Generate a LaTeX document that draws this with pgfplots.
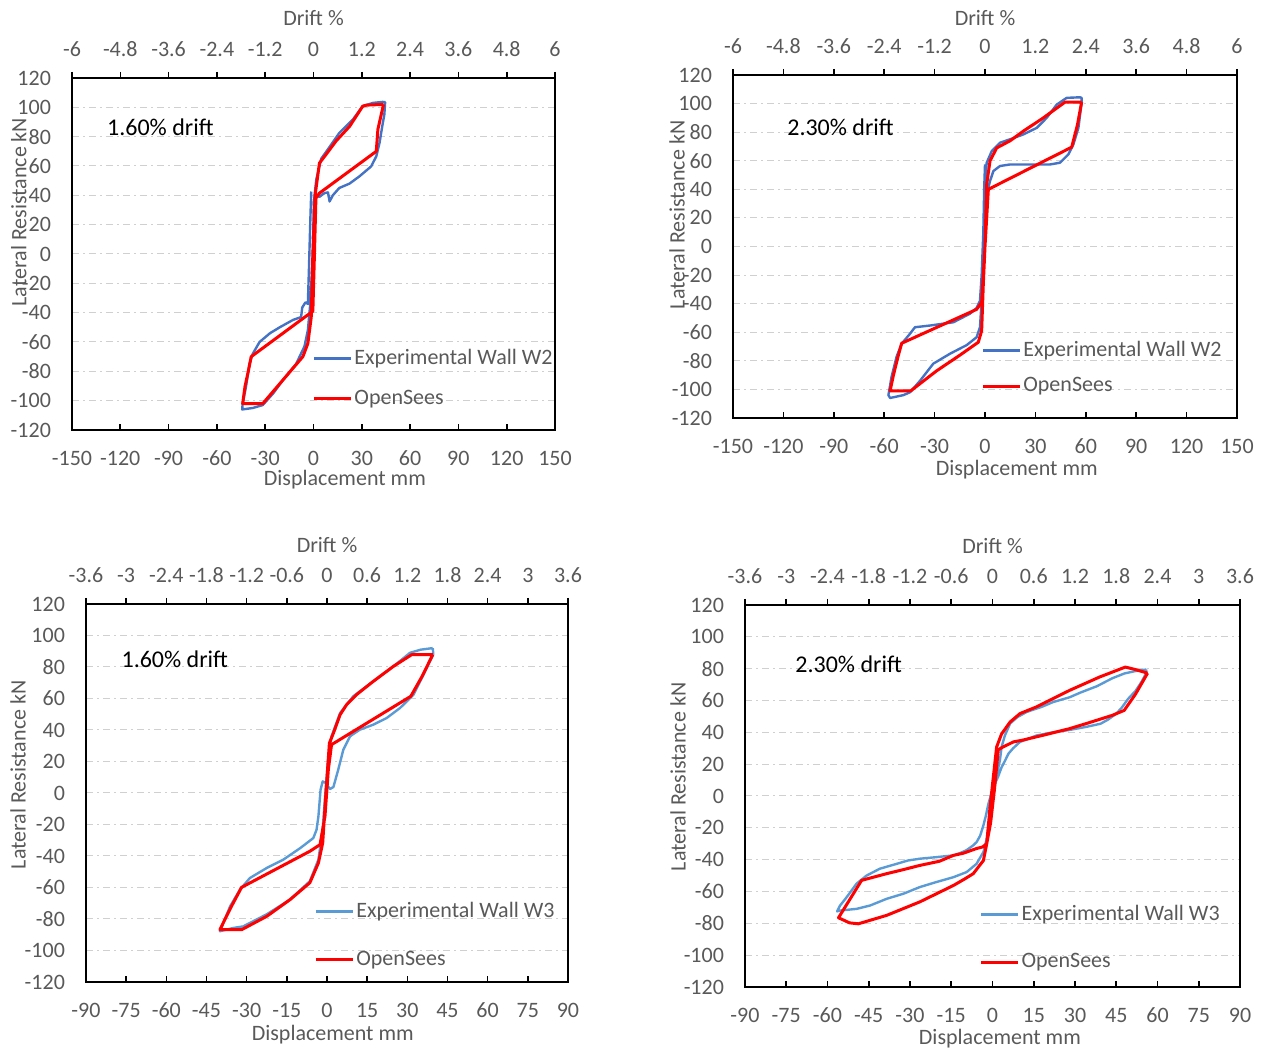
\documentclass[border=0pt]{standalone}
\usepackage{fontspec}
\setmainfont{Carlito}
\usepackage{pgfplots}
\pgfplotsset{compat=1.18}

\definecolor{tickgray}{HTML}{595959}
\definecolor{gridgray}{HTML}{D0D0D0}
\definecolor{expblue}{HTML}{4472C4}
\definecolor{expblueb}{HTML}{5B9BD5}
\definecolor{osred}{HTML}{FF0000}

\tikzset{
  expline/.style={line width=1.2pt, line join=round},
  osline/.style={osred, line width=1.5pt, line join=round},
  note/.style={font=\fontsize{12}{14}\selectfont, text=black, anchor=west, inner sep=0pt},
}

\pgfplotsset{
  hyst/.style={
    scale only axis, anchor=south west,
    ymin=-120, ymax=120,
    ytick={-120,-100,...,120},
    ymajorgrids,
    major grid style={gridgray, line width=0.5pt, dash pattern=on 3.5pt off 2pt on 1pt off 2pt},
    axis line style={black, line width=0.8pt},
    xtick pos=bottom, ytick pos=left,
    ytick style={draw=none},
    xtick style={black, line width=0.8pt},
    tick align=inside, major tick length=3pt,
    tick label style={font=\fontsize{11}{13}\selectfont, text=tickgray},
    xticklabel style={yshift=-7pt},
    yticklabel style={xshift=-7pt},
    label style={font=\fontsize{11}{13}\selectfont, text=tickgray},
    /pgf/number format/assume math mode=true,
    xlabel={Displacement mm},
    ylabel={Lateral Resistance kN},
    legend cell align=left,
    legend style={draw=none, fill=none, font=\fontsize{11}{13}\selectfont,
      text=tickgray, anchor=north west, inner sep=0pt, nodes={inner xsep=1pt}},
    legend image code/.code={\draw[##1] (0pt,0pt) -- (18.5pt,0pt);},
  },
  drifttop/.style={
    scale only axis, anchor=south west,
    axis x line*=top, axis y line=none,
    ymin=-120, ymax=120,
    tick align=outside, major tick length=3pt,
    xtick style={black, line width=0.8pt},
    axis line style={black, line width=0.8pt},
    tick label style={font=\fontsize{11}{13}\selectfont, text=tickgray},
    xticklabel style={yshift=4pt, /pgf/number format/fixed, /pgf/number format/precision=1},
    label style={font=\fontsize{11}{13}\selectfont, text=tickgray},
    /pgf/number format/assume math mode=true,
    xlabel={Drift \%},
  },
}

\begin{document}
\begin{tikzpicture}
\useasboundingbox (0,0) rectangle (631.5pt,524pt);

% ---- top left: W2, 1.60% drift
\begin{axis}[hyst, at={(36pt,309pt)}, width=241.5pt, height=176pt,
  xmin=-150, xmax=150, xtick={-150,-120,...,150},
  xlabel style={at={(axis description cs:0.565,-0.142)}, anchor=center},
  ylabel style={at={(axis description cs:-0.110,0.619)}, anchor=center},
  legend style={at={(0.497,0.241)}, row sep=7pt}]
\addplot[expline, expblue] coordinates {
(-1.4,42.6) (-2,22) (-2.9,-13) (-3.5,-34) (-5,-33) (-7,-36.5) (-7.7,-43)
(-12.8,-45) (-21,-50) (-27,-54) (-33.5,-60) (-37.7,-68) (-39.8,-75) (-42,-91)
(-44,-102) (-44.3,-106) (-37.7,-105) (-31.5,-103) (-25,-95) (-19,-86)
(-10.8,-75) (-5.6,-63) (-3.5,-52) (-2,-34) (-0.4,0) (0.2,35) (1.7,50.6)
(4.8,65) (10,73) (16,82.5) (24.4,91.6) (30.6,100.8) (36.9,103) (43,103.7)
(44.5,103.5) (44,95) (43,89) (41,75.7) (39,66.6) (35.8,59.7) (28.6,53)
(22.4,48) (16,45) (12,40) (10,35.8) (9,42) (6.8,41.5) (3.7,39) (2,40)};
\addplot[osline] coordinates {
(43.5,102) (40,85) (39,70) (3.7,41.5) (1.5,38) (0.6,0.5) (-0.4,-39)
(-38.7,-70) (-40.5,-80) (-42.5,-90) (-44,-102) (-31.5,-102) (-6.6,-70)
(-3.5,-61) (-1.4,-43) (-0.4,0) (1,40) (3.7,62) (7.9,68) (14,77) (22.4,87)
(30.6,100.8) (33,101.5) (43.5,102)};
\legend{Experimental Wall W2, OpenSees}
\node[note] at (axis description cs:0.072,0.861) {1.60\% drift};
\end{axis}
\begin{axis}[drifttop, at={(36pt,309pt)}, width=241.5pt, height=176pt,
  xmin=-6, xmax=6, xtick={-6,-4.8,-3.6,-2.4,-1.2,0,1.2,2.4,3.6,4.8,6},
  xlabel style={at={(axis description cs:0.5,1.17)}, anchor=center}]
\end{axis}

% ---- top right: W2, 2.30% drift
\begin{axis}[hyst, at={(366.5pt,315pt)}, width=252pt, height=171.5pt,
  xmin=-150, xmax=150, xtick={-150,-120,...,150},
  xlabel style={at={(axis description cs:0.563,-0.150)}, anchor=center},
  ylabel style={at={(axis description cs:-0.111,0.592)}, anchor=center},
  legend style={at={(0.492,0.236)}, row sep=5pt}]
\addplot[expline, expblue] coordinates {
(0,57.4) (-0.5,40) (-1,10) (-2,-20) (-3,-38) (-5,-43) (-8.9,-47) (-18.8,-53)
(-32.7,-55.3) (-41.7,-56.5) (-44.6,-61) (-49.6,-68) (-52.6,-77) (-55.6,-91)
(-57.5,-104) (-56.5,-106) (-48.6,-104) (-44.6,-102) (-38.7,-94) (-30.8,-82)
(-20.8,-75) (-10.9,-69) (-5,-63.5) (-3,-56.5) (-2,-38) (-1,-3) (0,43.5)
(1,58.6) (4,66.7) (8.9,72.6) (14.9,75) (22.8,78.4) (30.8,83) (36.7,90)
(42.7,99.3) (48.6,104) (56.5,104.4) (57.5,104) (57.5,100.5) (55.6,83)
(52.6,71.4) (49.6,64.4) (44.6,58.6) (38.7,57.4) (26.8,57.4) (14.9,57.4)
(8.9,56.3) (5,52.8) (3,45.8) (1,36.5)};
\addplot[osline] coordinates {
(57.5,101) (55,85) (51.6,69.5) (2,40) (1,20) (0,0) (-2,-39) (-5,-44)
(-49.6,-67.7) (-52,-78) (-54.5,-90) (-56.5,-101) (-44.2,-101) (-28.8,-87)
(-14.9,-76) (-4,-67) (-2,-59) (-1,-26) (0,0) (1,43.5) (3,60) (7,69) (15,74)
(22.8,80.7) (34.7,90) (47.6,101) (57.5,101)};
\legend{Experimental Wall W2, OpenSees}
\node[note] at (axis description cs:0.107,0.848) {2.30\% drift};
\end{axis}
\begin{axis}[drifttop, at={(366.5pt,315pt)}, width=252pt, height=171.5pt,
  xmin=-6, xmax=6, xtick={-6,-4.8,-3.6,-2.4,-1.2,0,1.2,2.4,3.6,4.8,6},
  xlabel style={at={(axis description cs:0.5,1.166)}, anchor=center}]
\end{axis}

% ---- bottom left: W3, 1.60% drift
\begin{axis}[hyst, at={(43pt,33pt)}, width=241pt, height=189pt,
  xmin=-90, xmax=90, xtick={-90,-75,...,90},
  xlabel style={at={(axis description cs:0.512,-0.138)}, anchor=center},
  ylabel style={at={(axis description cs:-0.141,0.548)}, anchor=center},
  legend style={at={(0.473,0.222)}, row sep=11pt}]
\addplot[expline, expblueb] coordinates {
(39.5,92) (39.7,88) (36,75) (32.3,62.4) (27.3,54) (22.3,47.6) (17.3,43.4)
(12.3,40.2) (8.6,36) (6.1,27.5) (4.2,14.8) (2.4,3.8) (1.1,2.5) (-0.4,6.3)
(-1.6,7.4) (-2.4,2) (-3.2,-14.8) (-3.9,-23.3) (-5.1,-28.6) (-10,-35)
(-16.3,-42.3) (-22.5,-47.6) (-28.8,-54) (-32.5,-61.4) (-36.2,-72)
(-38.7,-82.5) (-40,-87.8) (-35,-85.7) (-31.3,-84.7) (-22.5,-77)
(-13.8,-67.7) (-6.4,-56) (-3.2,-42.3) (-1.6,-23) (-0.7,-2) (0.5,23)
(1.7,36) (4.9,50.8) (9.8,61.4) (17.3,70.9) (24.8,80.4) (31,89) (35,91)
(39.5,92)};
\addplot[osline] coordinates {
(39.5,87.8) (35.5,74) (31.3,61.4) (1.7,30.7) (0.5,14.8) (-0.75,-14.8)
(-2.6,-32.8) (-6.4,-37) (-31.9,-59.9) (-36,-73) (-40,-86.8) (-31.9,-86.8)
(-22.5,-78.3) (-13.8,-67.7) (-6.4,-57) (-3.2,-44.4) (-1.6,-31.7) (-0.4,0)
(0.9,31.7) (2.4,38) (4.9,49.7) (7.3,56) (11,62.4) (17.3,70.9) (24.8,80.4)
(31.6,87.8) (39.5,87.8)};
\legend{Experimental Wall W3, OpenSees}
\node[note] at (axis description cs:0.073,0.854) {1.60\% drift};
\end{axis}
\begin{axis}[drifttop, at={(43pt,33pt)}, width=241pt, height=189pt,
  xmin=-3.6, xmax=3.6, xtick={-3.6,-3,-2.4,-1.8,-1.2,-0.6,0,0.6,1.2,1.8,2.4,3,3.6},
  xlabel style={at={(axis description cs:0.5,1.156)}, anchor=center}]
\end{axis}

% ---- bottom right: W3, 2.30% drift
\begin{axis}[hyst, at={(372.5pt,30.5pt)}, width=247.5pt, height=191pt,
  xmin=-90, xmax=90, xtick={-90,-75,...,90},
  xlabel style={at={(axis description cs:0.515,-0.134)}, anchor=center},
  ylabel style={at={(axis description cs:-0.135,0.55)}, anchor=center},
  legend style={at={(0.473,0.225)}, row sep=11pt}]
\addplot[expline, expblueb] coordinates {
(56,79.5) (55.5,76) (54.3,72) (52,66) (49.3,61) (47,55.5) (45,51.7) (42,48)
(39.3,45.4) (34,43.4) (28,41.5) (22,40) (16,38) (12.4,35.5) (10,34) (7.5,30)
(5.8,26.6) (4.5,22) (3.3,18) (2,12) (0.9,7.8) (-0.5,1) (-1.5,-5) (-2.5,-13)
(-3.3,-18.4) (-4.5,-25) (-5.8,-29) (-7,-31) (-9.4,-34) (-12,-36)
(-14.2,-37.3) (-20.3,-38.4) (-26.4,-39.4) (-30.7,-40.5) (-34.8,-42.6)
(-41,-45.7) (-45.8,-50) (-49.4,-55) (-53,-63.5) (-55.5,-69) (-56.5,-72.5)
(-55.5,-72) (-49.4,-70.9) (-44.5,-68.8) (-38.5,-64.6) (-32.4,-61.4)
(-26.4,-57.2) (-20.3,-54) (-14.2,-51) (-9.4,-47.8) (-5.8,-42.6) (-3.3,-35.2)
(-2,-26) (-1,-14) (0,-2) (1,8) (2,17) (2.7,22.4) (3.3,30.8) (4.5,38)
(6.4,45.5) (9,49.5) (12.4,52.8) (17.9,56) (22,59) (28,62) (32,65) (38,69)
(43.6,74) (48,77) (52,78.5) (56,79.5)};
\addplot[osline] coordinates {
(56.4,77.2) (52,64) (47.9,53.8) (43.6,50.7) (35,46) (28,42.3) (18,38)
(10.7,35) (7.6,34) (3.5,30.5) (2.1,29) (0.7,4) (-0.7,-17) (-2.1,-30)
(-3.6,-32) (-5.8,-33) (-10.7,-36) (-14.2,-37.3) (-19.3,-41) (-26.4,-43.6)
(-33,-46.5) (-38.5,-48.8) (-47.6,-53) (-56,-76.5) (-52,-79.7) (-48.8,-80.3)
(-38.5,-75) (-26.4,-66.5) (-14.2,-56.2) (-10,-52) (-7,-48.8) (-3.3,-40.5)
(-2.1,-30) (-0.9,-7) (0.3,12) (1.5,30.8) (3.3,39) (6.4,46.5) (10,51.8)
(16,56) (28.2,66.5) (39,74.8) (48.3,81) (51.4,79.7) (56.4,77.2)};
\legend{Experimental Wall W3, OpenSees}
\node[note] at (axis description cs:0.101,0.846) {2.30\% drift};
\end{axis}
\begin{axis}[drifttop, at={(372.5pt,30.5pt)}, width=247.5pt, height=191pt,
  xmin=-3.6, xmax=3.6, xtick={-3.6,-3,-2.4,-1.8,-1.2,-0.6,0,0.6,1.2,1.8,2.4,3,3.6},
  xlabel style={at={(axis description cs:0.5,1.154)}, anchor=center}]
\end{axis}
\end{tikzpicture}
\end{document}
